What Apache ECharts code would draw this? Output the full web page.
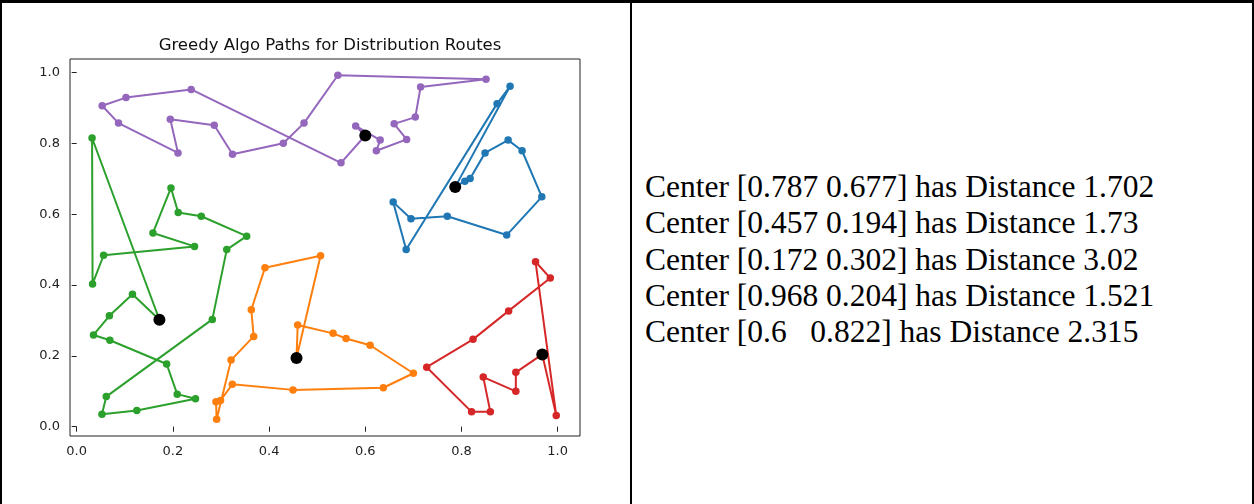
<!DOCTYPE html>
<html>
<head>
<meta charset="utf-8">
<script src="https://cdn.jsdelivr.net/npm/echarts@6/dist/echarts.min.js"></script>
<style>
  html, body { margin: 0; padding: 0; background: #fff; }
  #wrap { position: relative; width: 1254px; height: 504px; overflow: hidden; background: #fff; }
  #chart { position: absolute; left: 0; top: 0; width: 630px; height: 504px; }
  .bd { position: absolute; background: #000; }
  #txt { position: absolute; left: 645px; top: 169px; font-family: "Liberation Serif", "DejaVu Serif", serif;
         font-size: 31.5px; line-height: 36.25px; color: #000; white-space: pre; }
</style>
</head>
<body>
<div id="wrap">
  <div id="chart"></div>
  <div class="bd" style="left:0;top:0;width:1254px;height:3px;"></div>
  <div class="bd" style="left:0;top:0;width:2px;height:504px;"></div>
  <div class="bd" style="left:630px;top:0;width:2px;height:504px;"></div>
  <div class="bd" style="left:1252px;top:0;width:2px;height:504px;"></div>
  <div id="txt"></div>
</div>
<script>
// ---- data ----
var chartTitle = "Greedy Algo Paths for Distribution Routes";
var xTicks = [0.0, 0.2, 0.4, 0.6, 0.8, 1.0];
var yTicks = [0.0, 0.2, 0.4, 0.6, 0.8, 1.0];

var centers = [[0.787, 0.677], [0.457, 0.194], [0.172, 0.302], [0.968, 0.204], [0.6, 0.822]];
var centerLabels = ["[0.787 0.677]", "[0.457 0.194]", "[0.172 0.302]", "[0.968 0.204]", "[0.6   0.822]"];
var distances = ["1.702", "1.73", "3.02", "1.521", "2.315"];

var routeBlue = [[0.787,0.677],[0.807,0.693],[0.818,0.701],[0.849,0.773],[0.897,0.809],[0.926,0.779],
  [0.967,0.649],[0.894,0.541],[0.7705,0.594],[0.695,0.587],[0.658,0.634],[0.685,0.500],
  [0.874,0.912],[0.901,0.961],[0.787,0.677]];
var routeOrange = [[0.457,0.194],[0.4595,0.287],[0.533,0.2635],[0.560,0.249],[0.610,0.230],[0.700,0.151],
  [0.6375,0.110],[0.4497,0.104],[0.3235,0.1196],[0.299,0.074],[0.2896,0.0706],[0.291,0.021],
  [0.321,0.188],[0.368,0.255],[0.363,0.330],[0.3915,0.449],[0.507,0.4825],[0.457,0.194]];
var routeGreen = [[0.172,0.302],[0.116,0.374],[0.068,0.313],[0.035,0.259],[0.069,0.244],[0.187,0.177],
  [0.209,0.092],[0.247,0.079],[0.125,0.046],[0.0526,0.035],[0.0615,0.085],[0.282,0.303],
  [0.312,0.500],[0.3534,0.538],[0.259,0.594],[0.211,0.605],[0.196,0.674],[0.1586,0.547],
  [0.245,0.509],[0.056,0.484],[0.033,0.403],[0.032,0.815],[0.172,0.302]];
var routeRed = [[0.968,0.204],[0.913,0.1535],[0.913,0.100],[0.8453,0.140],[0.860,0.042],[0.821,0.042],
  [0.7277,0.168],[0.824,0.2466],[0.898,0.327],[0.9846,0.4196],[0.954,0.4656],[0.997,0.032],[0.968,0.204]];
var routePurple = [[0.6,0.822],[0.58,0.849],[0.631,0.809],[0.623,0.779],[0.686,0.811],[0.660,0.855],
  [0.704,0.874],[0.715,0.959],[0.851,0.981],[0.543,0.992],[0.4726,0.857],[0.4296,0.800],
  [0.324,0.769],[0.286,0.851],[0.1946,0.868],[0.2106,0.773],[0.087,0.857],[0.053,0.906],
  [0.1025,0.929],[0.238,0.952],[0.5495,0.745],[0.6,0.822]];

var routes = [routeBlue, routeOrange, routeGreen, routeRed, routePurple];
var colors = ["#1f77b4", "#ff7f0e", "#2ca02c", "#d62728", "#9467bd"];

// ---- text panel ----
var lines = [];
for (var i = 0; i < centers.length; i++) {
  lines.push("Center " + centerLabels[i] + " has Distance " + distances[i]);
}
document.getElementById("txt").textContent = lines.join("\n");

// ---- chart ----
var chart = echarts.init(document.getElementById("chart"), null, { renderer: "canvas" });
var series = routes.map(function (r, i) {
  return {
    type: "line", data: r, symbol: "circle", symbolSize: 7.5, showSymbol: true,
    itemStyle: { color: colors[i], opacity: 1 }, lineStyle: { color: colors[i], width: 2 },
    emphasis: { disabled: true }, animation: false, z: 2
  };
});
series.push({
  type: "scatter", data: centers, symbol: "circle", symbolSize: 12,
  itemStyle: { color: "#000", opacity: 1, borderWidth: 0 }, emphasis: { disabled: true }, animation: false, z: 5
});

var labelFont = { fontFamily: "DejaVu Sans", fontSize: 13, color: "#222" };
chart.setOption({
  animation: false,
  title: {
    text: chartTitle, left: 325, top: 32, textAlign: "center",
    textStyle: { fontFamily: "DejaVu Sans", fontSize: 16.5, fontWeight: "normal", color: "#111" }
  },
  grid: { left: 70, top: 59, width: 510, height: 377, show: true, borderColor: "#222", borderWidth: 1,
          backgroundColor: "#fff" },
  xAxis: {
    type: "value", min: -0.0139, max: 1.0464,
    splitLine: { show: false }, axisLine: { show: false },
    axisTick: { show: true, length: 5, customValues: xTicks, lineStyle: { color: "#222" } },
    axisLabel: Object.assign({ margin: 9, customValues: xTicks,
      formatter: function (v) { return v.toFixed(1); } }, labelFont)
  },
  yAxis: {
    type: "value", min: -0.0262, max: 1.038,
    splitLine: { show: false }, axisLine: { show: false },
    axisTick: { show: true, length: 5, customValues: yTicks, lineStyle: { color: "#222" } },
    axisLabel: Object.assign({ margin: 10, customValues: yTicks,
      formatter: function (v) { return v.toFixed(1); } }, labelFont)
  },
  series: series
});
</script>
</body>
</html>
